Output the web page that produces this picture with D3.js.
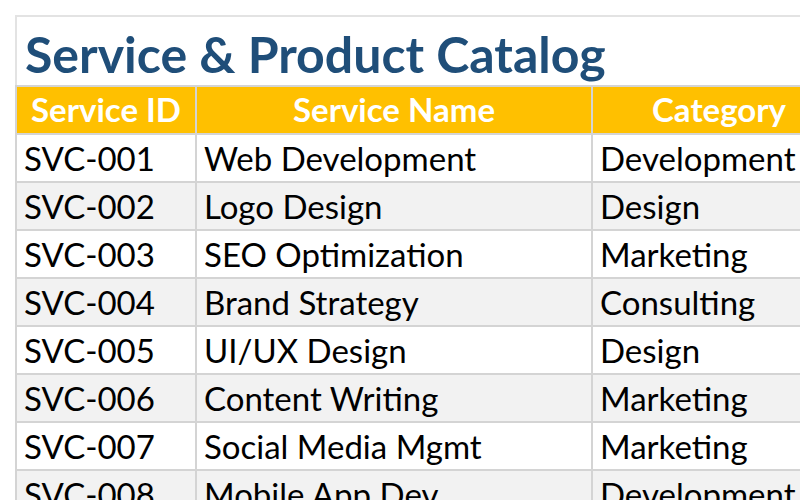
<!DOCTYPE html>
<html><head><meta charset="utf-8">
<script src="https://cdn.jsdelivr.net/npm/d3@7"></script>
<style>body{margin:0;background:#fff;overflow:hidden}</style>
</head><body>
<script>
// table data
var columns = ["Service ID", "Service Name", "Category"];
var ids = ["SVC-001","SVC-002","SVC-003","SVC-004","SVC-005","SVC-006","SVC-007","SVC-008"];
var names = ["Web Development","Logo Design","SEO Optimization","Brand Strategy","UI/UX Design","Content Writing","Social Media Mgmt","Mobile App Dev"];
var categories = ["Development","Design","Marketing","Consulting","Design","Marketing","Marketing","Development"];

var rows = ids.map(function(d, i){ return [d, names[i], categories[i]]; });

var svg = d3.select("body").append("svg").attr("width", 800).attr("height", 500);
var font = "Lato, 'Open Sans', sans-serif";

// column edges
var colX = [16, 196, 592, 1000];
var headTop = 86, rowH = 48;
var y = d3.scaleLinear().domain([0, 1]).range([headTop + rowH, headTop + 2 * rowH]);

// outer frame
svg.append("rect").attr("x", 16).attr("y", 16).attr("width", 800).attr("height", 600)
  .attr("fill", "none").attr("stroke", "#e3e3e3").attr("stroke-width", 2);

svg.append("text").attr("x", 25).attr("y", 73)
  .style("font-family", font).style("font-weight", "bold").style("font-size", "50px")
  .attr("fill", "#1f4e79").text("Service & Product Catalog");

// header
var head = svg.append("g");
head.selectAll("rect").data(columns).join("rect")
  .attr("x", function(d, i){ return colX[i]; }).attr("y", headTop)
  .attr("width", function(d, i){ return colX[i+1] - colX[i]; }).attr("height", rowH)
  .attr("fill", "#ffc000").attr("stroke", "#d4d4d4").attr("stroke-width", 2);
var headCx = [106, 394, 719];
head.selectAll("text").data(columns).join("text")
  .attr("x", function(d, i){ return headCx[i]; }).attr("y", headTop + 36)
  .attr("text-anchor", "middle")
  .style("font-family", font).style("font-weight", "bold").style("font-size", "33px")
  .attr("fill", "#fff").text(function(d){ return d; });

// body rows
var g = svg.selectAll("g.row").data(rows).join("g").attr("class", "row")
  .attr("transform", function(d, i){ return "translate(0," + y(i) + ")"; });
g.selectAll("rect").data(function(d, i){ return d.map(function(v){ return {v: v, r: i}; }); }).join("rect")
  .attr("x", function(d, i){ return colX[i]; }).attr("y", 0)
  .attr("width", function(d, i){ return colX[i+1] - colX[i]; }).attr("height", rowH)
  .attr("fill", function(d){ return d.r % 2 ? "#f2f2f2" : "#fff"; })
  .attr("stroke", "#d4d4d4").attr("stroke-width", 2);
g.selectAll("text").data(function(d){ return d; }).join("text")
  .attr("x", function(d, i){ return colX[i] + 8; }).attr("y", 37)
  .style("font-family", font).style("font-size", "33px")
  .attr("fill", "#000").text(function(d){ return d; });
</script>
</body></html>
